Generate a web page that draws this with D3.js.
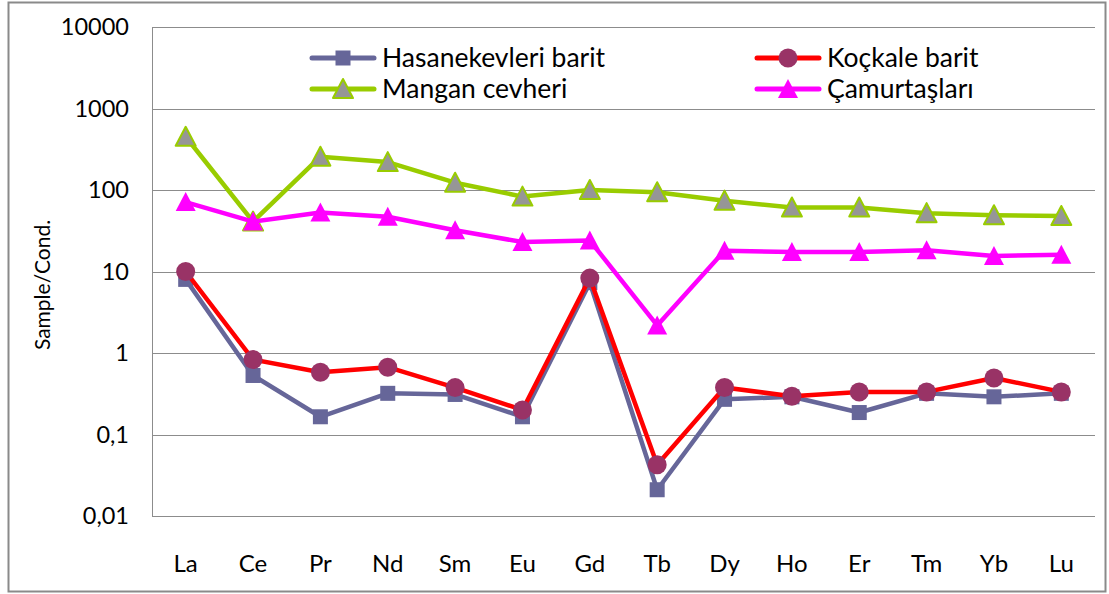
<!DOCTYPE html>
<html>
<head>
<meta charset="utf-8">
<script src="https://cdn.jsdelivr.net/npm/d3@7.9.0/dist/d3.min.js"></script>
<style>
  body { margin: 0; background: #fff; }
  svg { display: block; font-family: Lato, "Open Sans", sans-serif; }
</style>
</head>
<body>
<svg width="1109" height="594"></svg>
<script>
// REE categories (x axis)
const elements = ['La', 'Ce', 'Pr', 'Nd', 'Sm', 'Eu', 'Gd', 'Tb', 'Dy', 'Ho', 'Er', 'Tm', 'Yb', 'Lu'];

// chondrite-normalised values
const hasanekevleri = [8.0, 0.53, 0.165, 0.32, 0.31, 0.165, 7.3, 0.021, 0.27, 0.29, 0.186, 0.32, 0.29, 0.32];
const kockale = [10, 0.83, 0.58, 0.67, 0.376, 0.2, 8.3, 0.0425, 0.377, 0.295, 0.333, 0.333, 0.494, 0.333];
const mangan = [450, 41, 256, 220, 123, 83, 100, 94, 74, 61, 61, 52, 49, 48];
const camur = [71, 41, 53, 47, 32, 23, 24, 2.18, 18, 17.3, 17.3, 18.2, 15.5, 16];

const yTicks = [0.01, 0.1, 1, 10, 100, 1000, 10000];
const tickLabels = ['0,01', '0,1', '1', '10', '100', '1000', '10000'];

const series = [
  { name: 'Hasanekevleri barit', values: hasanekevleri, line: '#666699', marker: 'square', fill: '#666699', stroke: 'none' },
  { name: 'Koçkale barit', values: kockale, line: '#ff0000', marker: 'circle', fill: '#993366', stroke: 'none' },
  { name: 'Mangan cevheri', values: mangan, line: '#99cc00', marker: 'triangle', fill: '#969696', stroke: '#99cc00' },
  { name: 'Çamurtaşları', values: camur, line: '#ff00ff', marker: 'triangle', fill: '#ff00ff', stroke: 'none' }
];

const svg = d3.select('svg');
const plot = { left: 152, right: 1095, top: 27, bottom: 516 };

// outer chart border
svg.append('rect')
  .attr('x', 8.5).attr('y', 2.5)
  .attr('width', 1097).attr('height', 589)
  .attr('fill', 'none').attr('stroke', '#8a8a8a').attr('stroke-width', 2);

const x = d3.scaleBand().domain(elements).range([plot.left, plot.right]);
const y = d3.scaleLog().domain([0.01, 10000]).range([plot.bottom, plot.top]);

// gridlines
svg.append('g')
  .selectAll('line')
  .data(yTicks.slice(1))
  .join('line')
  .attr('x1', plot.left).attr('x2', plot.right)
  .attr('y1', d => Math.round(y(d)) + 0.5).attr('y2', d => Math.round(y(d)) + 0.5)
  .attr('stroke', '#8c8c8c').attr('stroke-width', 1);

// axes lines
svg.append('line')
  .attr('x1', plot.left + 0.5).attr('x2', plot.left + 0.5)
  .attr('y1', plot.top).attr('y2', plot.bottom)
  .attr('stroke', '#8c8c8c');
svg.append('line')
  .attr('x1', plot.left).attr('x2', plot.right)
  .attr('y1', plot.bottom + 0.5).attr('y2', plot.bottom + 0.5)
  .attr('stroke', '#8c8c8c');

// y tick labels
svg.append('g')
  .selectAll('text')
  .data(yTicks)
  .join('text')
  .attr('x', 129)
  .attr('y', d => y(d))
  .attr('dy', '0.35em')
  .attr('text-anchor', 'end')
  .attr('font-size', 23.5)
  .attr('fill', '#000')
  .text((d, i) => tickLabels[i]);

// x labels
svg.append('g')
  .selectAll('text')
  .data(elements)
  .join('text')
  .attr('x', d => x(d) + x.bandwidth() / 2)
  .attr('y', 572)
  .attr('text-anchor', 'middle')
  .attr('font-size', 24)
  .attr('fill', '#000')
  .text(d => d);

// y axis title
svg.append('text')
  .attr('transform', 'translate(50,285) rotate(-90)')
  .attr('text-anchor', 'middle')
  .attr('font-size', 21)
  .text('Sample/Cond.');

function drawMarker(g, s, cx, cy) {
  if (s.marker === 'square') {
    g.append('rect')
      .attr('x', cx - 7.5).attr('y', cy - 7.5)
      .attr('width', 15).attr('height', 15)
      .attr('fill', s.fill);
  } else if (s.marker === 'circle') {
    g.append('circle')
      .attr('cx', cx).attr('cy', cy).attr('r', 9.5)
      .attr('fill', s.fill);
  } else {
    const w = 20, h = 18;
    g.append('path')
      .attr('d', `M${cx},${cy - h / 2 - 1}L${cx + w / 2},${cy + h / 2}L${cx - w / 2},${cy + h / 2}Z`)
      .attr('fill', s.fill)
      .attr('stroke', s.stroke)
      .attr('stroke-width', s.stroke === 'none' ? 0 : 2)
      .attr('stroke-linejoin', 'round');
  }
}

const line = d3.line()
  .x((d, i) => x(elements[i]) + x.bandwidth() / 2)
  .y(d => y(d));

series.forEach(s => {
  const g = svg.append('g');
  g.append('path')
    .attr('d', line(s.values))
    .attr('fill', 'none')
    .attr('stroke', s.line)
    .attr('stroke-width', 4.5)
    .attr('stroke-linejoin', 'round');
  s.values.forEach((v, i) => {
    drawMarker(g, s, x(elements[i]) + x.bandwidth() / 2, y(v));
  });
});

// legend
const legendPos = [
  { x: 312, y: 58 }, { x: 757, y: 58 },
  { x: 312, y: 89 }, { x: 757, y: 89 }
];
series.forEach((s, i) => {
  const p = legendPos[i];
  const g = svg.append('g');
  g.append('line')
    .attr('x1', p.x).attr('x2', p.x + 62)
    .attr('y1', p.y).attr('y2', p.y)
    .attr('stroke', s.line).attr('stroke-width', 5)
    .attr('stroke-linecap', 'round');
  drawMarker(g, s, p.x + 31, p.y);
  g.append('text')
    .attr('x', p.x + 70)
    .attr('y', p.y)
    .attr('dy', '0.35em')
    .attr('font-size', 26.5)
    .text(s.name);
});
</script>
</body>
</html>
